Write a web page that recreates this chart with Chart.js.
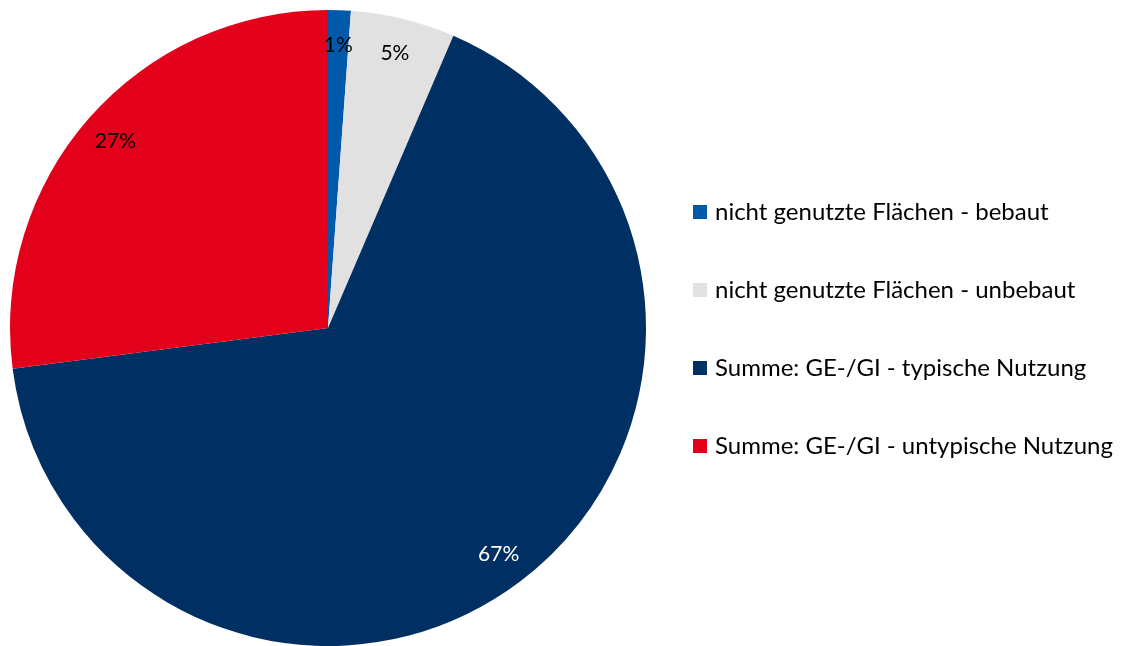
<!DOCTYPE html>
<html>
<head>
<meta charset="utf-8">
<script src="https://cdn.jsdelivr.net/npm/chart.js@4"></script>
<style>
html,body{margin:0;padding:0;background:#fff;}
#wrap{width:1126px;height:646px;position:relative;}
</style>
</head>
<body>
<div id="wrap"><canvas id="c" width="1126" height="646"></canvas></div>
<script>
const categories = [
  "nicht genutzte Flächen - bebaut",
  "nicht genutzte Flächen - unbebaut",
  "Summe: GE-/GI - typische Nutzung",
  "Summe: GE-/GI - untypische Nutzung"
];
const shares = [1.15, 5.3, 66.5, 27.05];
const sliceColors = ["#0059A9", "#E1E1E1", "#003063", "#E2001A"];
const labelColors = ["#000000", "#000000", "#FFFFFF", "#000000"];

const FONT = "Lato, 'Open Sans', sans-serif";

const sliceLabels = {
  id: 'sliceLabels',
  afterDatasetsDraw(chart) {
    const ctx = chart.ctx;
    const meta = chart.getDatasetMeta(0);
    const data = chart.data.datasets[0].data;
    const total = data.reduce((a, b) => a + b, 0);
    ctx.save();
    ctx.font = "21px " + FONT;
    ctx.textAlign = 'center';
    ctx.textBaseline = 'middle';
    meta.data.forEach((arc, i) => {
      const mid = (arc.startAngle + arc.endAngle) / 2;
      const r = arc.outerRadius * 0.89;
      const x = arc.x + Math.cos(mid) * r;
      const y = arc.y + Math.sin(mid) * r;
      ctx.fillStyle = labelColors[i];
      ctx.fillText(Math.round(data[i] / total * 100) + '%', x, y);
    });
    ctx.restore();
  }
};

const customLegend = {
  id: 'customLegend',
  afterDraw(chart) {
    const ctx = chart.ctx;
    const labels = chart.data.labels;
    const colors = chart.data.datasets[0].backgroundColor;
    const boxX = 693, box = 14, textX = 715, firstY = 212, step = 78;
    ctx.save();
    ctx.font = "24px " + FONT;
    ctx.textBaseline = 'middle';
    ctx.textAlign = 'left';
    labels.forEach((lab, i) => {
      const y = firstY + i * step;
      ctx.fillStyle = colors[i];
      ctx.fillRect(boxX, y - box / 2, box, box);
      ctx.fillStyle = '#000000';
      ctx.fillText(lab, textX, y);
    });
    ctx.restore();
  }
};

new Chart(document.getElementById('c'), {
  type: 'pie',
  data: {
    labels: categories,
    datasets: [{
      data: shares,
      backgroundColor: sliceColors,
      borderWidth: 0
    }]
  },
  options: {
    responsive: false,
    animation: false,
    layout: { padding: { left: 9, right: 479, top: 10, bottom: 0 } },
    plugins: {
      legend: { display: false },
      tooltip: { enabled: false }
    }
  },
  plugins: [sliceLabels, customLegend]
});
</script>
</body>
</html>
